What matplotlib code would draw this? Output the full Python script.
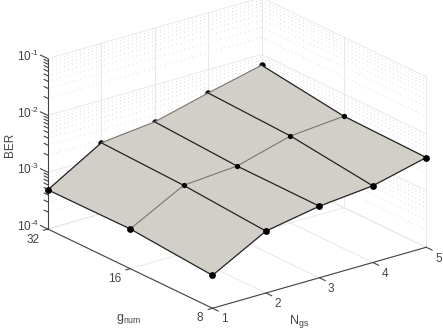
import numpy as np
import matplotlib
matplotlib.use('Agg')
import matplotlib.pyplot as plt

plt.rcParams['font.family'] = ['Liberation Sans', 'DejaVu Sans']
plt.rcParams['mathtext.fontset'] = 'custom'
plt.rcParams['mathtext.rm'] = 'Liberation Sans'
plt.rcParams['mathtext.default'] = 'regular'

ngs = [1, 2, 3, 4, 5]
g_num = [32, 16, 8]
ber_g32 = [4.9e-4, 1.78e-3, 2.24e-3, 3.89e-3, 6.46e-3]
ber_g16 = [5.0e-4, 1.58e-3, 1.86e-3, 3.39e-3, 4.07e-3]
ber_g8 = [3.8e-4, 1.23e-3, 1.82e-3, 2.24e-3, 3.80e-3]
z_decades = [-4, -3, -2, -1]
z_minors = [2, 3, 4, 5, 6, 7, 8, 9]

W, H = 443, 332
TXT = '#444444'
AXC = '#444444'
GRID = '#e8e8e8'
DOT = '#cfcfcf'
SURF = '#d2cfc8'

fig = plt.figure(figsize=(W / 100, H / 100), dpi=100)
ax = fig.add_axes([26 / W, -32 / H, 411 / W, 411 / H], projection='3d', proj_type='ortho')
ax.computed_zorder = False
ax.view_init(elev=21.75, azim=-127.6)
ax.set_box_aspect((1, 1, 0.68))
ax.set_xlim(1, 5, view_margin=0)
ax.set_ylim(3, 5, view_margin=0)
ax.set_zlim(-4, -1, view_margin=0)
ax.set_axis_off()

yy = np.log2(g_num)
Z = np.log10([ber_g32, ber_g16, ber_g8])
X, Y = np.meshgrid(ngs, yy)

x0, x1 = ngs[0], ngs[-1]
y0, y1 = yy[-1], yy[0]
zb, zt = z_decades[0], z_decades[-1]
minors = [d + np.log10(m) for d in z_decades[:-1] for m in z_minors]

# walls and floor
for m in minors:
    ax.plot([x0, x1], [y1, y1], [m, m], color=DOT, lw=0.6, ls=(0, (1, 4)), zorder=1)
    ax.plot([x1, x1], [y1, y0], [m, m], color=DOT, lw=0.6, ls=(0, (1, 4)), zorder=1)
for d in z_decades:
    ax.plot([x0, x1], [y1, y1], [d, d], color=GRID, lw=0.7, zorder=2)
    ax.plot([x1, x1], [y1, y0], [d, d], color=GRID, lw=0.7, zorder=2)
for n in ngs:
    ax.plot([n, n], [y0, y1], [zb, zb], color=GRID, lw=0.7, zorder=2)
    if n > x0:
        ax.plot([n, n], [y1, y1], [zb, zt], color=GRID, lw=0.7, zorder=2)
for v in yy:
    ax.plot([x0, x1], [v, v], [zb, zb], color=GRID, lw=0.7, zorder=2)
    ax.plot([x1, x1], [v, v], [zb, zt], color=GRID, lw=0.7, zorder=2)

# axis lines and ticks
ax.plot([x0, x0], [y1, y1], [zb, zt], color=AXC, lw=0.8, zorder=3)
ax.plot([x0, x0], [y0, y1], [zb, zb], color=AXC, lw=0.8, zorder=3)
ax.plot([x0, x1], [y0, y0], [zb, zb], color=AXC, lw=0.8, zorder=3)
for d in z_decades:
    ax.plot([x0, x0], [y1, y1 + 0.09], [d, d], color=AXC, lw=0.8, zorder=3)
for m in minors:
    ax.plot([x0, x0], [y1, y1 + 0.045], [m, m], color=AXC, lw=0.8, zorder=3)
for n in ngs:
    ax.plot([n, n], [y0, y0 - 0.07], [zb, zb], color=AXC, lw=0.8, zorder=3)
for v in yy:
    ax.plot([x0, x0 - 0.08], [v, v], [zb, zb], color=AXC, lw=0.8, zorder=3)

# back markers sit half under the surface
ax.plot(X[0, 1:], Y[0, 1:], Z[0, 1:], 'o', color='k', ms=4.6, mew=0, zorder=4)
ax.plot_surface(X, Y, Z, rstride=1, cstride=1, color=SURF, shade=False,
                linewidth=0.2, edgecolor=SURF, zorder=5)

# mesh lines
ax.plot(X[1], Y[1], Z[1], color='#777770', lw=0.8, zorder=6)
ax.plot(X[0, 1:], Y[0, 1:], Z[0, 1:], color='#77776f', lw=0.8, zorder=6)
ax.plot(X[0, :2], Y[0, :2], Z[0, :2], color='#222222', lw=0.9, zorder=7)
ax.plot(X[2], Y[2], Z[2], color='#222222', lw=0.9, zorder=7)
for i in range(len(ngs)):
    ax.plot(X[:, i], Y[:, i], Z[:, i], color='#222222', lw=0.9, zorder=7)

ax.plot(X[1, 1:], Y[1, 1:], Z[1, 1:], 'o', color='k', ms=3.8, mew=0, zorder=8)
ax.plot(X[2], Y[2], Z[2], 'o', color='k', ms=4.9, mew=0, zorder=8)
ax.plot(X[:2, 0], Y[:2, 0], Z[:2, 0], 'o', color='k', ms=4.9, mew=0, zorder=8)


def label(px, py, s, size=8.5, **kw):
    kw.setdefault('ha', 'center')
    kw.setdefault('va', 'center')
    fig.text(px / W, 1 - py / H, s, color=TXT, fontsize=size, **kw)


for d, py in zip(z_decades, [231, 174, 118, 61]):
    label(39.5, py, '$10^{\u2010%d}$' % abs(d), ha='right', va='baseline')
for g, px, py in zip(g_num, [33, 115, 199.5], [240, 279, 318]):
    label(px, py, str(g))
for n, px, py in zip(ngs, [224, 278, 331, 385, 439], [319, 304, 289, 274, 259]):
    label(px, py, str(n))
label(10, 145, 'BER', rotation=90)
label(129, 319, r'$g_{num}$', size=9)
label(299, 321, r'$N_{gs}$', size=9)

fig.savefig('out.png', dpi=100)
